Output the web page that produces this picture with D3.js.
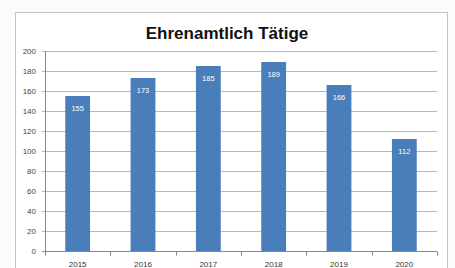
<!DOCTYPE html>
<html>
<head>
<meta charset="utf-8">
<script src="https://cdn.jsdelivr.net/npm/d3@7"></script>
<style>
  html, body { margin: 0; padding: 0; background: #fbfbfb; }
  svg { display: block; }
</style>
</head>
<body>
<div id="chart"></div>
<script>
const years = ["2015", "2016", "2017", "2018", "2019", "2020"];
const helpers = [155, 173, 185, 189, 166, 112];
const yTicks = [0, 20, 40, 60, 80, 100, 120, 140, 160, 180, 200];
const title = "Ehrenamtlich Tätige";

const width = 455;
const height = 268;
const margin = { left: 45, right: 18, top: 51, bottom: 17 };

const svg = d3.select("#chart")
  .append("svg")
  .attr("width", width)
  .attr("height", height)
  .style("font-family", "'Liberation Sans', Arial, sans-serif");

// chart frame
svg.append("rect")
  .attr("x", 15.5)
  .attr("y", 12.5)
  .attr("width", 432)
  .attr("height", 270)
  .attr("fill", "#fff")
  .attr("stroke", "#c4c4c4");

svg.append("text")
  .attr("x", 227)
  .attr("y", 39)
  .attr("text-anchor", "middle")
  .attr("font-size", 17)
  .attr("font-weight", "bold")
  .attr("fill", "#111")
  .text(title);

const x = d3.scaleBand()
  .domain(years)
  .range([margin.left, width - margin.right])
  .paddingInner(0.62)
  .paddingOuter(0.31);

const y = d3.scaleLinear()
  .domain([0, 200])
  .range([height - margin.bottom, margin.top]);

// gridlines
svg.append("g")
  .selectAll("line")
  .data(yTicks.filter(d => d > 0))
  .join("line")
  .attr("x1", margin.left - 3)
  .attr("x2", width - margin.right)
  .attr("y1", d => Math.round(y(d)) + 0.5)
  .attr("y2", d => Math.round(y(d)) + 0.5)
  .attr("stroke", "#b8b8b8");

// y labels
svg.append("g")
  .selectAll("text")
  .data(yTicks)
  .join("text")
  .attr("x", 36)
  .attr("y", d => y(d) + 3)
  .attr("text-anchor", "end")
  .attr("font-size", 8)
  .attr("fill", "#444")
  .text(d => d);

// bars
svg.append("g")
  .selectAll("rect")
  .data(helpers)
  .join("rect")
  .attr("x", (d, i) => x(years[i]))
  .attr("y", d => y(d))
  .attr("width", x.bandwidth())
  .attr("height", d => y(0) - y(d))
  .attr("fill", "#4a7ebb");

svg.append("g")
  .selectAll("text")
  .data(helpers)
  .join("text")
  .attr("x", (d, i) => x(years[i]) + x.bandwidth() / 2)
  .attr("y", d => y(d) + 15)
  .attr("text-anchor", "middle")
  .attr("font-size", 7.5)
  .attr("fill", "#fff")
  .text(d => d);

// axes lines
const axisY = Math.round(y(0)) + 0.5;
svg.append("line")
  .attr("x1", margin.left - 3)
  .attr("x2", width - margin.right)
  .attr("y1", axisY)
  .attr("y2", axisY)
  .attr("stroke", "#888");

svg.append("line")
  .attr("x1", margin.left + 0.5)
  .attr("x2", margin.left + 0.5)
  .attr("y1", y(200))
  .attr("y2", axisY)
  .attr("stroke", "#888");

// category ticks
const step = x.step();
svg.append("g")
  .selectAll("line")
  .data(d3.range(years.length + 1))
  .join("line")
  .attr("x1", i => Math.round(margin.left + i * (width - margin.right - margin.left) / years.length) + 0.5)
  .attr("x2", i => Math.round(margin.left + i * (width - margin.right - margin.left) / years.length) + 0.5)
  .attr("y1", axisY)
  .attr("y2", axisY + 4)
  .attr("stroke", "#888");

svg.append("g")
  .selectAll("text")
  .data(years)
  .join("text")
  .attr("x", d => x(d) + x.bandwidth() / 2)
  .attr("y", 267)
  .attr("text-anchor", "middle")
  .attr("font-size", 8)
  .attr("fill", "#333")
  .text(d => d);
</script>
</body>
</html>
